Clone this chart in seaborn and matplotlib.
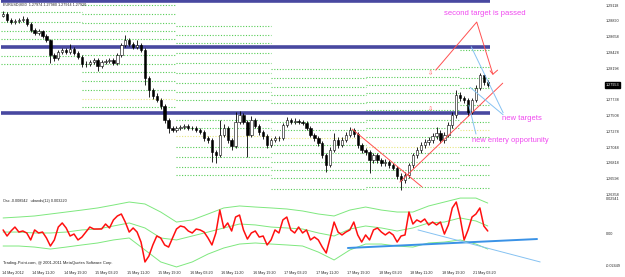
import numpy as np
import matplotlib
matplotlib.use("Agg")
import matplotlib.pyplot as plt
import seaborn as sns

# EURUSD hourly bars, x = trading hours from 14 May 00:00 (weekend removed)
first_hour = 4
open0 = 1.2896
close = [1.2899, 1.2890, 1.2887, 1.2889, 1.2890, 1.2891, 1.2884, 1.2875, 1.2871, 1.2874,
         1.2867, 1.2861, 1.2839, 1.2835, 1.2843, 1.2846, 1.2843, 1.2848, 1.2842, 1.2836,
         1.2826, 1.2826, 1.2829, 1.2832, 1.2823, 1.2829, 1.2830, 1.2832, 1.2827, 1.2839,
         1.2854, 1.2861, 1.2855, 1.2851, 1.2854, 1.2846, 1.2806, 1.2788, 1.2779, 1.2774,
         1.2765, 1.2744, 1.2733, 1.2730, 1.2733, 1.2734, 1.2736, 1.2733, 1.2733, 1.2730,
         1.2727, 1.2718, 1.2715, 1.2698, 1.2693, 1.2723, 1.2733, 1.2715, 1.2707, 1.2742,
         1.2752, 1.2742, 1.2723, 1.2744, 1.2736, 1.2727, 1.2721, 1.2708, 1.2715, 1.2718,
         1.2718, 1.2737, 1.2744, 1.2742, 1.2743, 1.2742, 1.2740, 1.2733, 1.2723, 1.2718,
         1.2711, 1.2693, 1.2679, 1.2701, 1.2715, 1.2708, 1.2715, 1.2723, 1.2730, 1.2724,
         1.2708, 1.2701, 1.2698, 1.2686, 1.2693, 1.2686, 1.2682, 1.2683, 1.2679, 1.2675,
         1.2663, 1.2657, 1.2664, 1.2679, 1.2693, 1.2701, 1.2708, 1.2712, 1.2715, 1.2721,
         1.2726, 1.2715, 1.2723, 1.2737, 1.2752, 1.2781, 1.2776, 1.2774, 1.2756, 1.2774,
         1.2791, 1.2810, 1.2800, 1.2795]
high = [1.2903, 1.2902, 1.2893, 1.2892, 1.2893, 1.2896, 1.2894, 1.2887, 1.2878, 1.2877,
        1.2876, 1.2870, 1.2863, 1.2842, 1.2846, 1.2849, 1.2849, 1.2855, 1.2851, 1.2845,
        1.2839, 1.2830, 1.2832, 1.2835, 1.2835, 1.2832, 1.2833, 1.2835, 1.2835, 1.2842,
        1.2857, 1.2868, 1.2864, 1.2858, 1.2861, 1.2857, 1.2849, 1.2809, 1.2791, 1.2783,
        1.2777, 1.2768, 1.2747, 1.2736, 1.2736, 1.2737, 1.2739, 1.2739, 1.2736, 1.2736,
        1.2733, 1.2730, 1.2721, 1.2718, 1.2701, 1.2744, 1.2738, 1.2736, 1.2718, 1.2756,
        1.2757, 1.2755, 1.2745, 1.2750, 1.2747, 1.2739, 1.2730, 1.2724, 1.2718, 1.2721,
        1.2721, 1.2740, 1.2749, 1.2747, 1.2747, 1.2746, 1.2745, 1.2743, 1.2736, 1.2726,
        1.2721, 1.2714, 1.2696, 1.2705, 1.2725, 1.2719, 1.2719, 1.2727, 1.2734, 1.2733,
        1.2727, 1.2711, 1.2704, 1.2701, 1.2696, 1.2696, 1.2689, 1.2687, 1.2686, 1.2682,
        1.2678, 1.2667, 1.2668, 1.2682, 1.2696, 1.2705, 1.2712, 1.2716, 1.2719, 1.2725,
        1.2734, 1.2730, 1.2727, 1.2741, 1.2756, 1.2788, 1.2785, 1.2780, 1.2777, 1.2777,
        1.2795, 1.2813, 1.2812, 1.2803]
low = [1.2894, 1.2887, 1.2884, 1.2884, 1.2886, 1.2887, 1.2881, 1.2872, 1.2868, 1.2868,
       1.2864, 1.2858, 1.2827, 1.2831, 1.2832, 1.2840, 1.2840, 1.2840, 1.2839, 1.2833,
       1.2822, 1.2822, 1.2823, 1.2826, 1.2816, 1.2820, 1.2826, 1.2827, 1.2824, 1.2824,
       1.2836, 1.2851, 1.2852, 1.2848, 1.2848, 1.2843, 1.2796, 1.2778, 1.2775, 1.2770,
       1.2761, 1.2740, 1.2726, 1.2727, 1.2727, 1.2730, 1.2731, 1.2730, 1.2730, 1.2727,
       1.2724, 1.2714, 1.2711, 1.2683, 1.2682, 1.2690, 1.2719, 1.2711, 1.2701, 1.2704,
       1.2738, 1.2738, 1.2690, 1.2720, 1.2732, 1.2723, 1.2717, 1.2704, 1.2705, 1.2712,
       1.2714, 1.2715, 1.2734, 1.2739, 1.2739, 1.2739, 1.2737, 1.2730, 1.2719, 1.2714,
       1.2707, 1.2689, 1.2669, 1.2676, 1.2698, 1.2704, 1.2705, 1.2712, 1.2720, 1.2720,
       1.2704, 1.2697, 1.2694, 1.2667, 1.2682, 1.2682, 1.2678, 1.2678, 1.2675, 1.2671,
       1.2659, 1.2642, 1.2652, 1.2660, 1.2675, 1.2689, 1.2697, 1.2704, 1.2708, 1.2711,
       1.2717, 1.2711, 1.2711, 1.2719, 1.2733, 1.2748, 1.2772, 1.2769, 1.2750, 1.2753,
       1.2770, 1.2788, 1.2796, 1.2792]

# oscillator (red) and its bands (green)
osc = [0.0044, -0.0002, 0.0036, 0.0066, 0.0028, 0.0036, 0.0021, -0.0032, 0.0044, 0.0021,
       0.0028, -0.0017, -0.0078, -0.0032, 0.0066, 0.0097, 0.0059, -0.0002, 0.0013, -0.0032,
       -0.0010, 0.0028, 0.0066, 0.0051, 0.0051, 0.0051, 0.0089, 0.0059, 0.0120, 0.0150,
       0.0165, 0.0104, 0.0028, 0.0059, 0.0028, -0.0048, -0.0199, -0.0154, -0.0070, -0.0002,
       -0.0017, -0.0070, -0.0086, -0.0017, 0.0051, 0.0074, 0.0066, 0.0036, 0.0021, 0.0051,
       0.0044, 0.0028, -0.0017, -0.0070, 0.0021, 0.0195, 0.0059, 0.0097, 0.0036, 0.0142,
       0.0157, 0.0044, -0.0025, 0.0021, 0.0036, -0.0010, -0.0002, -0.0070, -0.0032, 0.0044,
       0.0021, 0.0120, 0.0142, 0.0044, 0.0021, 0.0066, 0.0021, 0.0044, -0.0032, -0.0010,
       -0.0032, -0.0086, -0.0131, -0.0017, 0.0104, 0.0028, 0.0006, 0.0028, 0.0044, 0.0104,
       0.0006, -0.0048, 0.0006, -0.0032, 0.0044, 0.0059, 0.0028, 0.0006, 0.0028, 0.0006,
       -0.0048, -0.0002, 0.0006, 0.0180, 0.0089, 0.0120, 0.0104, 0.0127, 0.0082, 0.0104,
       0.0082, 0.0104, 0.0013, 0.0082, 0.0211, 0.0256, 0.0135, -0.0032, 0.0044, 0.0142,
       0.0165, 0.0211, 0.0074, 0.0036]
band_hours = [4, 8, 12, 16, 20, 24, 28, 32, 36, 40, 44, 48, 52, 56, 60, 64,
              68, 72, 76, 80, 84, 88, 92, 96, 100, 104, 108, 112, 116, 120, 124, 127]
band_upper = [0.0135, 0.0142, 0.0150, 0.0165, 0.0180, 0.0195, 0.0211, 0.0233, 0.0256, 0.0241,
              0.0180, 0.0104, 0.0120, 0.0165, 0.0211, 0.0226, 0.0218, 0.0211, 0.0203, 0.0188,
              0.0165, 0.0150, 0.0195, 0.0218, 0.0195, 0.0180, 0.0180, 0.0226, 0.0256, 0.0286,
              0.0286, 0.0248]
band_mid = [0.0028, 0.0028, 0.0021, 0.0021, 0.0028, 0.0044, 0.0051, 0.0074, 0.0097, 0.0059,
            -0.0017, -0.0032, -0.0002, 0.0028, 0.0059, 0.0089, 0.0082, 0.0066, 0.0059, 0.0051,
            0.0021, -0.0002, 0.0051, 0.0074, 0.0059, 0.0036, 0.0059, 0.0097, 0.0104, 0.0135,
            0.0112, 0.0074]
band_lower = [-0.0078, -0.0078, -0.0086, -0.0101, -0.0086, -0.0070, -0.0055, -0.0032, -0.0017, -0.0108,
              -0.0199, -0.0237, -0.0199, -0.0139, -0.0093, -0.0063, -0.0055, -0.0063, -0.0070, -0.0078,
              -0.0124, -0.0184, -0.0108, -0.0063, -0.0063, -0.0078, -0.0086, -0.0055, -0.0048, -0.0032,
              -0.0063, -0.0101]

# daily pivot levels (green dotted), one list per day segment
day_bounds = [(3.5, 24), (24, 48), (48, 72), (72, 96), (96, 120), (120, 127.5)]
day_levels = [
    [1.2902, 1.2887, 1.2874, 1.2862, 1.2838, 1.2826],
    [1.2912, 1.2899, 1.2886, 1.2874, 1.2862, 1.2839, 1.2826, 1.2814, 1.2801, 1.2788, 1.2763],
    [1.2881, 1.2868, 1.2857, 1.2842, 1.2827, 1.2813, 1.2798, 1.2785, 1.2773, 1.2744, 1.2733,
     1.2705, 1.2690, 1.2676, 1.2664],
    [1.2819, 1.2806, 1.2792, 1.2781, 1.2769, 1.2756, 1.2741, 1.2730, 1.2708, 1.2696, 1.2683,
     1.2672, 1.2660, 1.2644],
    [1.2819, 1.2807, 1.2795, 1.2784, 1.2771, 1.2759, 1.2744, 1.2733, 1.2720, 1.2696, 1.2683,
     1.2672, 1.2660, 1.2647],
    [1.2846, 1.2822, 1.2806, 1.2791, 1.2766, 1.2741, 1.2720, 1.2705, 1.2679, 1.2664, 1.2645],
]
day_pivot = [None, 1.2775, 1.2721, 1.2718, 1.2705, 1.2730]

# support / resistance lines (navy)
sr_levels = [1.2917, 1.2850, 1.2754]

price_ticks = [1.29118, 1.28890, 1.28658, 1.28428, 1.28198, 1.27738, 1.27508,
               1.27278, 1.27048, 1.26818, 1.26598, 1.26358]
last_price = 1.27953
osc_ticks = [0.02941, 0.0, -0.02449]
osc_tick_labels = ["0.02941", "0.00", "-0.02449"]

time_ticks = [3.7, 11.33, 19.33, 27.33, 35.33, 43.33, 51.33, 59.33, 67.33, 75.33,
              83.33, 91.33, 99.33, 107.33, 115.33, 123.33]
time_labels = ["14 May 2012", "14 May 11:20", "14 May 19:20", "15 May 03:20", "15 May 11:20",
               "15 May 19:20", "16 May 03:20", "16 May 11:20", "16 May 19:20", "17 May 03:20",
               "17 May 11:20", "17 May 19:20", "18 May 03:20", "18 May 11:20", "18 May 19:20",
               "21 May 03:20"]

sns.set_theme(style="white")
plt.rcParams['font.family'] = ['Liberation Sans', 'DejaVu Sans']

fig = plt.figure(figsize=(6.25, 2.77), dpi=100)
ax = fig.add_axes([0, 81 / 277, 604 / 625, 196 / 277])
ax2 = fig.add_axes([0, 9 / 277, 604 / 625, 71 / 277], sharex=ax)

hours = np.arange(first_hour, first_hour + len(close))
opens = np.array([open0] + close[:-1])
close_a = np.array(close)

# pivot grid
for (h0, h1), levels, piv in zip(day_bounds, day_levels, day_pivot):
    ax.hlines(levels, h0, h1, colors="#55cc55", linestyles=(0, (1, 1.5)), linewidth=0.8, zorder=1)
    if piv is not None:
        ax.hlines(piv, h0, h1, colors="#e6e680", linestyles=(0, (1, 1.5)), linewidth=0.8, zorder=1)

ax.hlines(sr_levels, 3.5, 127.5, colors="#4848a0", linewidth=2.6, zorder=2)

# candles
up = close_a >= opens
ax.vlines(hours, low, high, color="black", linewidth=0.6, zorder=3)
ax.bar(hours[up], close_a[up] - opens[up], bottom=opens[up], width=0.6,
       color="white", edgecolor="black", linewidth=0.4, zorder=4)
ax.bar(hours[~up], close_a[~up] - opens[~up], bottom=opens[~up], width=0.6,
       color="black", edgecolor="black", linewidth=0.4, zorder=4)

# trend lines and arrows
red = "#ff5050"
light_blue = "#86c2f2"
ax.plot([92.6, 110.3], [1.2731, 1.2647], color=red, lw=0.7, zorder=5)
ax.plot([104.7, 130.8], [1.2654, 1.2798], color=red, lw=0.7, zorder=5)
ax.plot([113.8, 124.2, 128.3, 129.5], [1.2817, 1.2887, 1.2811, 1.2817], color=red, lw=0.7, zorder=5)
ax.plot([127.6, 128.3], [1.2816, 1.2811], color=red, lw=0.7, zorder=5)
ax.plot([122.8, 130.9], [1.2851, 1.2755], color=light_blue, lw=0.7, zorder=5)
ax.plot([122.5, 130.9], [1.2792, 1.2752], color=light_blue, lw=0.7, zorder=5)
ax.plot([122.2, 124.0], [1.2766, 1.2724], color=light_blue, lw=0.7, zorder=5)
for p in [1.2813, 1.2760]:
    ax.text(112.4, p, "\u21e9", color=red, fontsize=4.5, ha="center", va="center",
            family=["DejaVu Sans"], zorder=6)

mag = "#f048f0"
ax.text(115.9, 1.2899, "second target is passed", color=mag, fontsize=5.5, va="center")
ax.text(130.6, 1.2746, "new targets", color=mag, fontsize=5.5, va="center")
ax.text(122.9, 1.2714, "new entery opportunity", color=mag, fontsize=5.4, va="center")

ax.text(0.005, 0.975, "EURUSD,M30  1.27974 1.27980 1.27914 1.27920", transform=ax.transAxes,
        fontsize=2.7, color="#222222", va="center")

ax.set_ylim(1.26337, 1.29191)
ax.set_xlim(3.21, 156.5)
ax.yaxis.tick_right()
ax.set_yticks(price_ticks)
ax.set_yticklabels([f"{v:.5f}" for v in price_ticks])
ax.tick_params(axis="y", labelsize=2.7, length=0, pad=1.5)
ax.tick_params(axis="x", length=0, labelbottom=False)
ax.text(1.003, last_price, f"{last_price:.5f}", transform=ax.get_yaxis_transform(),
        fontsize=2.7, color="white", va="center", ha="left",
        bbox=dict(boxstyle="square,pad=0.25", fc="black", ec="black"))
for s in ax.spines.values():
    s.set_visible(False)

# oscillator panel
sns.lineplot(x=band_hours, y=band_upper, ax=ax2, color="#7ee87e", lw=0.7)
sns.lineplot(x=band_hours, y=band_mid, ax=ax2, color="#7ee87e", lw=0.7)
sns.lineplot(x=band_hours, y=band_lower, ax=ax2, color="#7ee87e", lw=0.7)
sns.lineplot(x=hours, y=osc, ax=ax2, color="#ff1010", lw=1.1)
ax2.plot([91.5, 139.5], [-0.0093, -0.0025], color="#3a92e6", lw=1.4)
ax2.plot([109.3, 140.3], [0.0044, -0.0199], color=light_blue, lw=0.7)

ax2.text(0.005, 0.95, "Osc -0.008942   ubands(12) 0.003220", transform=ax2.transAxes,
         fontsize=2.7, color="#222222", va="center")
ax2.text(0.005, 0.07, "Trading-Point.com, @ 2001-2011 MetaQuotes Software Corp.",
         transform=ax2.transAxes, fontsize=2.9, color="#222222", va="center")

ax2.set_ylim(-0.02449, 0.02941)
ax2.yaxis.tick_right()
ax2.set_yticks(osc_ticks)
ax2.set_yticklabels(osc_tick_labels)
ax2.tick_params(axis="y", labelsize=2.7, length=0, pad=1.5)
osc_labels = ax2.get_yticklabels()
osc_labels[0].set_va("top")
osc_labels[1].set_va("bottom")
osc_labels[2].set_va("bottom")
ax2.set_xticks(time_ticks)
ax2.set_xticklabels(time_labels, ha="left")
ax2.tick_params(axis="x", labelsize=2.7, length=0, pad=2)
for s in ax2.spines.values():
    s.set_visible(False)

fig.savefig("out.png", dpi=100)
